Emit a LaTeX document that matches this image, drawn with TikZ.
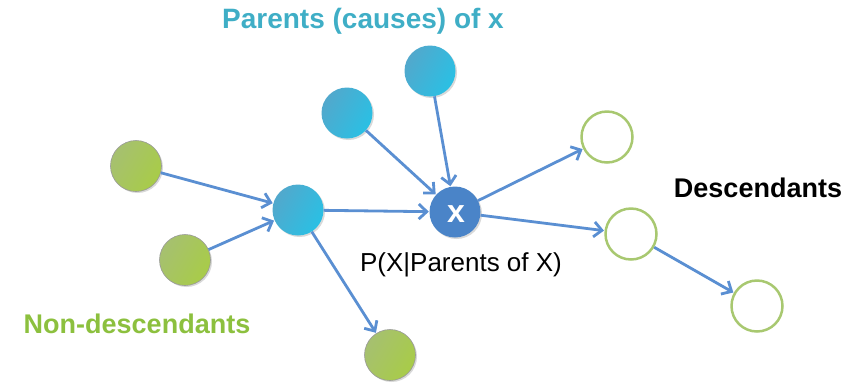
\documentclass[tikz,border=0pt]{standalone}
\usepackage{fontspec}
\setmainfont{Liberation Sans}
\usetikzlibrary{arrows.meta,shadows}
\definecolor{edgeblue}{HTML}{5A8FD2}
\definecolor{cyanA}{HTML}{52A8CC}
\definecolor{cyanB}{HTML}{2AC0E4}
\definecolor{greenA}{HTML}{A6C070}
\definecolor{greenB}{HTML}{A8CC48}
\definecolor{greenrim}{HTML}{A8C870}
\definecolor{xblue}{HTML}{4A84C8}
\definecolor{tealtext}{HTML}{3FAEC6}
\definecolor{greentext}{HTML}{8CC03E}
\begin{document}
\begin{tikzpicture}[x=1pt,y=-1pt,
  base/.style={circle,minimum size=51pt,inner sep=0pt},
  softshadow/.style={drop shadow={opacity=0.25,shadow xshift=1.5pt,shadow yshift=-1.5pt,fill=black!60}},
  parentnode/.style={base,softshadow,left color=cyanA,right color=cyanB,shading angle=60},
  nondesc/.style={base,softshadow,left color=greenA,right color=greenB,shading angle=60,draw=black!40,line width=0.6pt},
  descnode/.style={base,fill=white,draw=greenrim,line width=2.5pt},
  xnode/.style={base,softshadow,fill=xblue,text=white,font=\bfseries\fontsize{32}{32}\selectfont},
  link/.style={draw=edgeblue,line width=2.8pt,-{Straight Barb[length=8pt,width=15pt,line width=2.8pt]},shorten >=0.5pt},
  label/.style={font=\bfseries\fontsize{27}{27}\selectfont}
]
\useasboundingbox (0,0) rectangle (851,384);

% nodes
\node[nondesc] (g1) at (136,166) {};
\node[nondesc] (g2) at (185,260) {};
\node[nondesc] (g3) at (390,355) {};
\node[parentnode] (b) at (298,210) {};
\node[parentnode] (p1) at (347,113) {};
\node[parentnode] (p2) at (430,71) {};
\node[xnode] (x) at (455,212) {};
\node[text=white,font=\bfseries\fontsize{32}{32}\selectfont] (xl) at (456,214) {x};
\node[descnode] (d1) at (607,137) {};
\node[descnode] (d2) at (631,234) {};
\node[descnode] (d3) at (757,306) {};

% edges
\draw[link] (g1) -- (b);
\draw[link] (g2) -- (b);
\draw[link] (b) -- (x);
\draw[link] (b) -- (g3);
\draw[link] (p1) -- (x);
\draw[link] (p2) -- (x);
\draw[link] (x) -- (d1);
\draw[link] (x) -- (d2);
\draw[link] (d2) -- (d3);

% labels
\node[label,text=tealtext,font=\bfseries\fontsize{28}{28}\selectfont] (lp) at (363,21) {Parents (causes) of x};
\node[label,text=greentext] (ln) at (137,324) {Non-descendants};
\node[label,text=black] (ld) at (758,188) {Descendants};
\node[font=\fontsize{26}{26}\selectfont] (lx) at (461,265) {P(X|Parents of X)};
\end{tikzpicture}
\end{document}
